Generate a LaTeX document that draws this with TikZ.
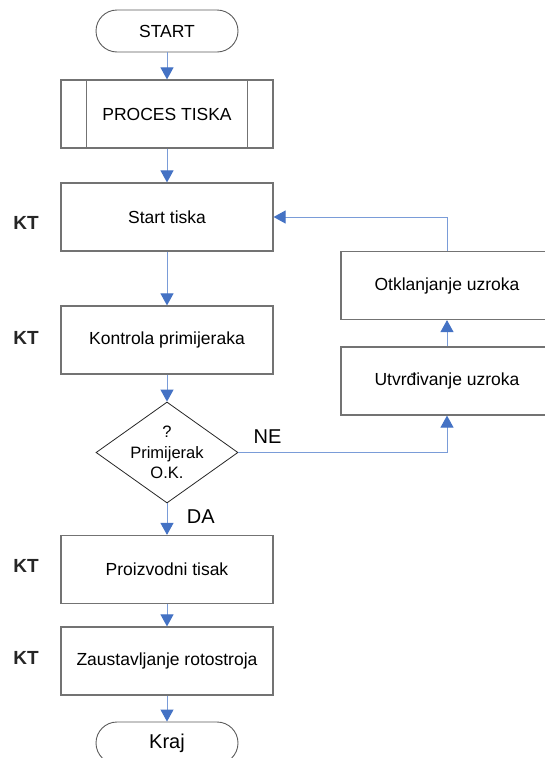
\documentclass[tikz,border=0pt]{standalone}
\usepackage{fontspec}
\setmainfont{Liberation Sans}
\usetikzlibrary{shapes.geometric,arrows.meta,positioning}
\definecolor{linegray}{HTML}{737373}
\definecolor{arrowblue}{HTML}{4472C4}
\definecolor{lineblue}{HTML}{7A9CD8}
\begin{document}
\begin{tikzpicture}[x=1pt,y=-1pt,
  box/.style={rectangle,draw=linegray,line width=1.2pt,minimum width=212pt,minimum height=68pt,font=\fontsize{17.5}{21}\selectfont},
  term/.style={rectangle,rounded corners=21pt,draw=linegray!80!black,line width=0.9pt,minimum width=142pt,minimum height=42pt},
  decision/.style={diamond,draw=black!85,line width=0.8pt,minimum width=142pt,minimum height=101pt,inner sep=0pt},
  kt/.style={font=\fontsize{19}{22}\selectfont\bfseries,text=black!85},
  flow/.style={draw=lineblue,line width=1pt,-{Triangle[width=13pt,length=12pt,color=arrowblue]}},
  lbl/.style={font=\fontsize{20}{24}\selectfont}]
\useasboundingbox (0,0) rectangle (544,758);

% main column
\node [term,font=\fontsize{17.5}{21}\selectfont] (start) at (167,31) {START};
\node [box] (proces) at (167,114) {PROCES TISKA};
\draw [linegray,line width=1.2pt] ([xshift=26pt]proces.north west) -- ([xshift=26pt]proces.south west);
\draw [linegray,line width=1.2pt] ([xshift=-26pt]proces.north east) -- ([xshift=-26pt]proces.south east);
\node [box] (tisak) at (167,217) {Start tiska};
\node [box] (kontrola) at (167,340) {Kontrola primijeraka};
\node [decision] (ok) at (167,452.5) {};
\node [align=center,font=\fontsize{16.5}{20.5}\selectfont] (oktext) at (ok) {?\\Primijerak\\O.K.};
\node [box] (proizv) at (167,569.5) {Proizvodni tisak};
\node [box] (zaust) at (167,661) {Zaustavljanje rotostroja};
\node [term,font=\fontsize{20}{24}\selectfont] (kraj) at (167,743) {Kraj};

% correction loop
\node [box] (otkl) at (447,285.5) {Otklanjanje uzroka};
\node [box] (utvr) at (447,381) {Utvrđivanje uzroka};

% control points
\node [kt] (kt1) at (26,223) {KT};
\node [kt] (kt2) at (26,337.5) {KT};
\node [kt] (kt3) at (26,565.5) {KT};
\node [kt] (kt4) at (26,658) {KT};

\draw [flow] (start.south) -- (proces.north);
\draw [flow] (proces.south) -- (tisak.north);
\draw [flow] (tisak.south) -- (kontrola.north);
\draw [flow] (kontrola.south) -- (ok.north);
\draw [flow] (ok.south) -- (proizv.north) node [lbl,pos=0.41,right=16pt] {DA};
\draw [flow] (proizv.south) -- (zaust.north);
\draw [flow] (zaust.south) -- (kraj.north);
\draw [flow] (ok.east) -| (utvr.south) node [lbl,pos=0.07,above=5.5pt] {NE};
\draw [flow] (utvr.north) -- (otkl.south);
\draw [flow] (otkl.north) |- (tisak.east);
\end{tikzpicture}
\end{document}
